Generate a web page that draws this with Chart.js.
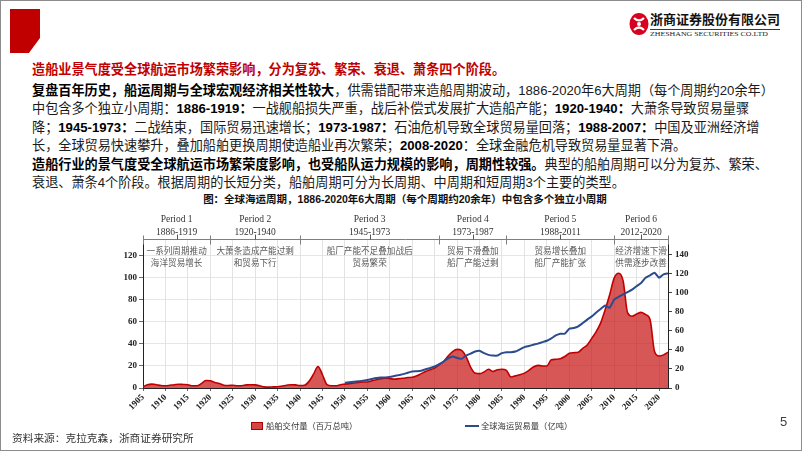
<!DOCTYPE html>
<html><head><meta charset="utf-8">
<script src="https://cdn.jsdelivr.net/npm/chart.js@4.4.1/dist/chart.umd.min.js"></script>
<style>
html,body{margin:0;padding:0;background:#fff;}
body{width:802px;height:451px;position:relative;overflow:hidden;font-family:"Liberation Sans","Noto Sans CJK SC",sans-serif;}
.frame{position:absolute;left:0;top:0;width:800px;height:449px;border:1px solid #8c8c8c;pointer-events:none;}
.redblock{position:absolute;left:10px;top:9px;width:30px;height:44px;background:#c00000;clip-path:polygon(0 0,100% 0,100% 66%,63% 100%,0 100%);}
.ln{position:absolute;left:32px;white-space:nowrap;font-size:13.15px;color:#1a1a1a;line-height:18px;height:18px;}
.ln b{font-weight:bold;color:#000;}
.red{color:#c00000;font-weight:bold;}
.ctitle{position:absolute;left:0;width:810px;text-align:center;top:191px;font-size:10.5px;font-weight:bold;color:#111;white-space:nowrap;line-height:16px;}
.logo-cn{position:absolute;left:650px;top:12px;font-size:13px;font-weight:bold;color:#111;letter-spacing:0px;line-height:16px;white-space:nowrap;}
.logo-rule{position:absolute;left:650px;top:29px;width:130px;height:1px;background:#c00000;}
.logo-en{position:absolute;left:650px;top:30px;font-family:"Liberation Serif",serif;font-size:7px;color:#222;line-height:9px;white-space:nowrap;transform-origin:left top;transform:scaleX(1.12);}
.legend{position:absolute;top:419px;font-family:"Noto Sans CJK SC",sans-serif;font-size:8.3px;color:#333;line-height:12px;white-space:nowrap;}
.lbox{display:inline-block;width:10px;height:6px;background:#d24646;border:1px solid #b00000;vertical-align:middle;margin-right:3px;position:relative;top:-1px;}
.lline{display:inline-block;width:14px;height:2px;background:#2c4b8e;vertical-align:middle;margin-right:2px;position:relative;top:-1px;}
.src{position:absolute;left:12px;top:431px;font-size:10.7px;color:#333;line-height:14px;white-space:nowrap;}
.pnum{position:absolute;left:780px;top:414px;font-size:13px;color:#404040;line-height:16px;}
#wrap{position:absolute;left:100px;top:200px;width:620px;height:230px;}
</style></head>
<body>
<div class="redblock"></div>
<svg style="position:absolute;left:628px;top:12px" width="22" height="24" viewBox="0 0 22 24">
  <ellipse cx="11" cy="12" rx="9.5" ry="11" fill="#d7001e"/>
  <path d="M6 6 Q11 11 16 6 M6 18 Q11 13 16 18" stroke="#fff" stroke-width="2.2" fill="none"/>
  <circle cx="11" cy="12" r="2" fill="#fff"/>
</svg>
<div class="logo-cn">浙商证券股份有限公司</div>
<div class="logo-rule"></div>
<div class="logo-en">ZHESHANG SECURITIES CO.LTD</div>

<div class="ln red" style="top:61px">造船业景气度受全球航运市场繁荣影响，分为复苏、繁荣、衰退、萧条四个阶段。</div>
<div class="ln" style="top:81.5px"><b>复盘百年历史，船运周期与全球宏观经济相关性较大</b>，供需错配带来造船周期波动，1886-2020年6大周期（每个周期约20余年）</div>
<div class="ln" style="top:100px">中包含多个独立小周期：<b>1886-1919：</b>一战舰船损失严重，战后补偿式发展扩大造船产能；<b>1920-1940：</b>大萧条导致贸易量骤</div>
<div class="ln" style="top:118.5px">降；<b>1945-1973：</b>二战结束，国际贸易迅速增长；<b>1973-1987：</b>石油危机导致全球贸易量回落；<b>1988-2007：</b>中国及亚洲经济增</div>
<div class="ln" style="top:137px">长，全球贸易快速攀升，叠加船舶更换周期使造船业再次繁荣；<b>2008-2020</b>：全球金融危机导致贸易量显著下滑。</div>
<div class="ln" style="top:156px"><b>造船行业的景气度受全球航运市场繁荣度影响，也受船队运力规模的影响，周期性较强。</b>典型的船舶周期可以分为复苏、繁荣、</div>
<div class="ln" style="top:174px">衰退、萧条4个阶段。根据周期的长短分类，船舶周期可分为长周期、中周期和短周期3个主要的类型。</div>

<div class="ctitle">图：全球海运周期，1886-2020年6大周期（每个周期约20余年）中包含多个独立小周期</div>

<div id="wrap"><canvas id="c" width="620" height="230"></canvas></div>

<div class="legend" style="left:251px"><span class="lbox"></span>船舶交付量（百万总吨）</div>
<div class="legend" style="left:465px"><span class="lline"></span>全球海运贸易量（亿吨）</div>

<div class="src">资料来源：克拉克森，浙商证券研究所</div>
<div class="pnum">5</div>
<div class="frame"></div>

<script>
// ---- data ----
const years = [1905,1906,1907,1908,1909,1910,1911,1912,1913,1914,1915,1916,1917,1918,1919,1920,1921,1922,1923,1924,1925,1926,1927,1928,1929,1930,1931,1932,1933,1934,1935,1936,1937,1938,1939,1940,1941,1942,1943,1944,1945,1946,1947,1948,1949,1950,1951,1952,1953,1954,1955,1956,1957,1958,1959,1960,1961,1962,1963,1964,1965,1966,1967,1968,1969,1970,1971,1972,1973,1974,1975,1976,1977,1978,1979,1980,1981,1982,1983,1984,1985,1986,1987,1988,1989,1990,1991,1992,1993,1994,1995,1996,1997,1998,1999,2000,2001,2002,2003,2004,2005,2006,2007,2008,2009,2010,2011,2012,2013,2014,2015,2016,2017,2018,2019,2020,2021,2022];
const deliveries = [1.0,3.0,3.5,3.0,2.2,2.0,2.5,3.0,3.4,3.2,3.0,2.0,2.0,4.0,6.8,6.6,5.0,4.0,2.5,2.2,2.5,2.0,2.0,2.8,3.0,2.8,2.0,1.0,0.8,1.0,1.2,1.8,2.5,3.0,2.8,2.2,2.5,6.0,12.5,19.5,12.0,3.0,2.0,2.0,3.0,3.5,4.0,4.5,5.0,5.5,5.5,6.5,7.5,8.5,8.8,8.5,8.0,8.5,8.8,9.5,9.7,11,13,15,16.5,18,21,24,29,33,35,34,28.5,19,13.5,13,14.5,17,15,16.5,17,16,10,11,12,13.5,16,19,20.5,20,20,25.5,26,26.5,28.5,31.5,32,32.5,36,39,45,51,59,71,84.5,99.5,104,97,68,65,67,68.5,66.5,62,33,29,30,32.5];
const tradeYears = [1950,1951,1952,1953,1954,1955,1956,1957,1958,1959,1960,1961,1962,1963,1964,1965,1966,1967,1968,1969,1970,1971,1972,1973,1974,1975,1976,1977,1978,1979,1980,1981,1982,1983,1984,1985,1986,1987,1988,1989,1990,1991,1992,1993,1994,1995,1996,1997,1998,1999,2000,2001,2002,2003,2004,2005,2006,2007,2008,2009,2010,2011,2012,2013,2014,2015,2016,2017,2018,2019,2020,2021,2022];
const tradeVolume = [5.5,6,6.5,7,7.5,8.4,9.5,10.5,11,11,11.5,12.5,13.5,14.5,16,17.2,17.5,18,19.7,21,22.5,25,27.7,31,33,31.5,30.5,34,36,38.2,39,36.5,34.7,34,34,36.5,37.5,37.5,38.2,40.5,42.8,44,45.3,46.5,48,49.5,52,55,56.8,56.8,62,62.8,64.6,68,71.6,75,79,82.8,86.3,83.9,92.6,95.5,98,100.5,103,106.6,110,115.4,118,120.7,115.4,119,120];
const periodNames = ['Period 1','Period 2','Period 3','Period 4','Period 5','Period 6'];
const periodRanges = ['1886-1919','1920-1940','1945-1973','1973-1987','1988-2011','2012-2020'];
const periodEdges = [1905,1920,1940,1971,1986,2010,2022];
const periodNote1 = ['一系列周期推动','大萧条造成产能过剩','船厂产能不足叠加战后','贸易下滑叠加','贸易增长叠加','经济增速下滑'];
const periodNote2 = ['海洋贸易增长','和贸易下行','贸易繁荣','船厂产能过剩','船厂产能扩张','供需逐步改善'];
const seriesNames = ['船舶交付量（百万总吨）','全球海运贸易量（亿吨）'];

const serifTick = {family:'"Liberation Serif","Times New Roman",serif', weight:'bold', size:9};

const periodPlugin = {
  id:'periods',
  afterDraw(chart){
    const ctx = chart.ctx, xs = chart.scales.x, a = chart.chartArea;
    const top = Math.round(a.top) + 0.5;
    ctx.save();
    ctx.strokeStyle = '#7f7f7f'; ctx.lineWidth = 1;
    ctx.beginPath(); ctx.moveTo(a.left, top); ctx.lineTo(a.right, top); ctx.stroke();
    periodEdges.forEach(e => {
      const x = Math.round(xs.getPixelForValue(e)) + 0.5;
      ctx.beginPath(); ctx.moveTo(x, top - 4); ctx.lineTo(x, top + 5); ctx.stroke();
    });
    for (let i = 0; i < periodNames.length; i++) {
      const cx = (xs.getPixelForValue(periodEdges[i]) + xs.getPixelForValue(periodEdges[i+1])) / 2;
      const xr = Math.round(cx) + 0.5;
      ctx.strokeStyle = '#555';
      ctx.beginPath(); ctx.moveTo(xr, top - 5); ctx.lineTo(xr, top); ctx.stroke();
      ctx.fillStyle = '#333';
      ctx.textAlign = 'center'; ctx.textBaseline = 'middle';
      ctx.font = '9.5px "Liberation Serif","Times New Roman",serif';
      ctx.fillText(periodNames[i], cx, top - 20);
      ctx.fillText(periodRanges[i], cx, top - 7.5);
      ctx.fillStyle = '#595959';
      ctx.font = '8.6px "Noto Sans CJK SC",sans-serif';
      ctx.fillText(periodNote1[i], cx, top + 11);
      ctx.fillText(periodNote2[i], cx, top + 23);
    }
    ctx.restore();
  }
};

const keep20 = s => { s.ticks = s.ticks.filter(t => t.value % 20 === 0); };

new Chart(document.getElementById('c'), {
  type:'line',
  data:{
    datasets:[
      {
        label: seriesNames[1],
        data: tradeYears.map((y,i)=>({x:y, y:tradeVolume[i]})),
        yAxisID:'y2',
        borderColor:'#2c4b8e', borderWidth:2, pointRadius:0, tension:0.15, fill:false
      },
      {
        label: seriesNames[0],
        data: years.map((y,i)=>({x:y, y:deliveries[i]})),
        yAxisID:'y',
        borderColor:'#c00000', backgroundColor:'rgba(200,22,22,0.72)',
        borderWidth:1.6, pointRadius:0, cubicInterpolationMode:'monotone', fill:'origin'
      }
    ]
  },
  options:{
    responsive:false, animation:false,
    layout:{padding:{top:39,left:0,right:0,bottom:0}},
    plugins:{legend:{display:false}, tooltip:{enabled:false}},
    scales:{
      x:{
        type:'linear', min:1905, max:2022,
        ticks:{stepSize:5, includeBounds:false, autoSkip:false, minRotation:45, maxRotation:45, callback:v=>String(v), font:serifTick, color:'#222', padding:1},
        grid:{color:'#dcdcdc', lineWidth:0.8, tickColor:'#444', tickLength:3},
        border:{color:'#222', width:1},
        afterBuildTicks: s => { s.ticks = s.ticks.filter(t => t.value % 5 === 0); },
        afterFit: s => { s.height = 42; }
      },
      y:{
        position:'left', min:0, max:135,
        ticks:{stepSize:20, includeBounds:false, font:serifTick, color:'#222', padding:2},
        grid:{color:'#e0e0e0', lineWidth:0.8, tickColor:'#444', tickLength:4},
        border:{color:'#222', width:1},
        afterBuildTicks: keep20,
        afterFit: s => { s.width = 43; }
      },
      y2:{
        position:'right', min:0, max:156,
        ticks:{stepSize:20, includeBounds:false, font:serifTick, color:'#222', padding:3},
        grid:{drawOnChartArea:false, tickColor:'#444', tickLength:4},
        border:{color:'#222', width:1},
        afterBuildTicks: keep20,
        afterFit: s => { s.width = 52; }
      }
    }
  },
  plugins:[periodPlugin]
});
</script>
</body></html>
